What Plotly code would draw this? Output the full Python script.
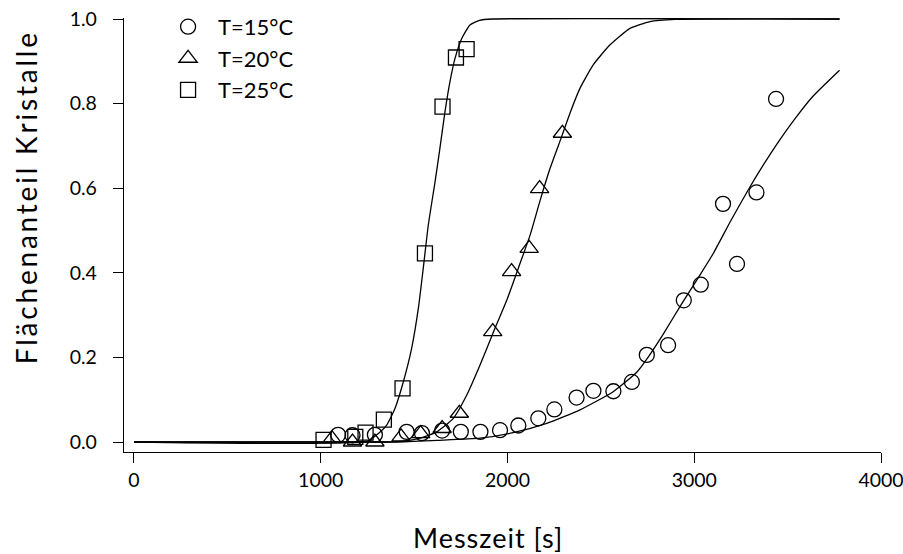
import plotly.graph_objects as go

t15 = [1093, 1170, 1290, 1460, 1542, 1650, 1750, 1855, 1960, 2058, 2165, 2251,
       2370, 2460, 2567, 2666, 2746, 2860, 2944, 3035, 3154, 3229, 3333, 3438]
f15 = [0.017, 0.016, 0.017, 0.024, 0.021, 0.027, 0.024, 0.024, 0.028, 0.039, 0.056, 0.077,
       0.105, 0.121, 0.120, 0.142, 0.206, 0.229, 0.335, 0.372, 0.563, 0.421, 0.590, 0.811]

t20 = [1060, 1170, 1290, 1430, 1535, 1650, 1742, 1921, 2022, 2116, 2172, 2294]
f20 = [0.008, 0.000, 0.000, 0.012, 0.020, 0.032, 0.068, 0.261, 0.403, 0.458, 0.599, 0.730]

t25 = [1015, 1185, 1240, 1338, 1438, 1558, 1652, 1724, 1781]
f25 = [0.005, 0.012, 0.022, 0.053, 0.127, 0.446, 0.793, 0.909, 0.929]

# ---- fitted curves ----
fit15_t = [0, 1400, 1621, 1853, 2030, 2210, 2388, 2566, 2692, 2760, 2834, 2930,
           3031, 3101, 3192, 3281, 3370, 3459, 3549, 3637, 3778]
fit15_f = [0.0, 0.0, 0.004, 0.009, 0.022, 0.044, 0.076, 0.119, 0.165, 0.205, 0.255, 0.325,
           0.395, 0.445, 0.520, 0.590, 0.655, 0.715, 0.770, 0.818, 0.879]

fit20_t = [0, 1350, 1442, 1531, 1621, 1710, 1782, 1853, 1933, 1996, 2058, 2121, 2174,
           2228, 2290, 2335, 2388, 2458, 2549, 2656, 2763, 2900, 3778]
fit20_f = [0.0, 0.0, 0.002, 0.009, 0.024, 0.056, 0.111, 0.182, 0.269, 0.335, 0.411, 0.489,
           0.570, 0.647, 0.722, 0.778, 0.836, 0.891, 0.939, 0.978, 0.994, 0.999, 1.0]

fit25_t = [0, 1250, 1300, 1353, 1398, 1442, 1487, 1523, 1549, 1576, 1612, 1639, 1665,
           1692, 1719, 1755, 1799, 1850, 1922, 3778]
fit25_f = [0.0, 0.002, 0.017, 0.040, 0.080, 0.142, 0.222, 0.317, 0.411, 0.513, 0.615, 0.697,
           0.780, 0.852, 0.907, 0.954, 0.986, 0.997, 1.0, 1.0]

labels = ["T=15°C", "T=20°C", "T=25°C"]
x_ticks = [0, 1000, 2000, 3000, 4000]
y_ticks = [0.0, 0.2, 0.4, 0.6, 0.8, 1.0]

FONT = "Lato"
TICK = 19.5
fig = go.Figure()

for ft, ff in [(fit15_t, fit15_f), (fit20_t, fit20_f), (fit25_t, fit25_f)]:
    fig.add_trace(go.Scatter(x=ft, y=ff, mode="lines", showlegend=False,
                             line=dict(color="black", width=1.3, shape="spline", smoothing=0.5),
                             hoverinfo="skip"))

series = [(t15, f15, "circle-open", 15), (t20, f20, "triangle-up-open", 16),
          (t25, f25, "square-open", 15)]
for i, (tx, fy, sym, sz) in enumerate(series):
    fig.add_trace(go.Scatter(x=tx, y=fy, mode="markers", name=labels[i],
                             legendgroup=str(i),
                             marker=dict(symbol=sym, size=sz, color="black",
                                         line=dict(color="black", width=1.3)),
                             cliponaxis=False))

fig.update_layout(
    width=903, height=554,
    margin=dict(l=124, r=22, t=18, b=102, autoexpand=False),
    paper_bgcolor="white", plot_bgcolor="white",
    font=dict(family=FONT, color="black", size=21),
    showlegend=True,
    legend=dict(x=0.045, y=1.028, xanchor="left", yanchor="top", itemwidth=50,
                bgcolor="rgba(0,0,0,0)", font=dict(family=FONT, size=22, color="black"),
                tracegroupgap=0, traceorder="grouped"),
    xaxis=dict(range=[-53.5, 4000], tickvals=x_ticks, ticktext=[str(v) for v in x_ticks],
               showgrid=False, zeroline=False, showline=True, linecolor="black",
               linewidth=1.3, ticks="outside", ticklen=10, tickwidth=1.3,
               tickcolor="black", tickfont=dict(family=FONT, size=TICK),
               ticklabeloverflow="allow", automargin=False),
    yaxis=dict(range=[-0.0236, 1.0024], tickvals=y_ticks,
               ticktext=["%.1f" % v for v in y_ticks],
               showgrid=False, zeroline=False, showline=True, linecolor="black",
               linewidth=1.3, ticks="outside", ticklen=10, tickwidth=1.3,
               tickcolor="black", tickfont=dict(family=FONT, size=TICK),
               ticklabelstandoff=12, ticklabeloverflow="allow", automargin=False),
    annotations=[
        dict(text="Flächenanteil Kristalle", xref="paper", yref="paper",
             x=(26 - 124) / 757, y=(452 - 197) / 434, xanchor="center", yanchor="middle",
             textangle=-90, showarrow=False, font=dict(family=FONT, size=28, color="black")),
        dict(text="Messzeit [s]", xref="paper", yref="paper",
             x=(488 - 124) / 757, y=(452 - 537) / 434, xanchor="center", yanchor="middle",
             showarrow=False, font=dict(family=FONT, size=27, color="black")),
    ],
)

post = """
document.documentElement.style.margin = '0';
document.body.style.margin = '0';
document.body.style.overflow = 'hidden';
function _ls(){
  document.querySelectorAll('.annotation-text').forEach(function(t){
    if (t.textContent.indexOf('Kristalle') >= 0) { t.style.letterSpacing = '2.8px'; }
    else if (t.textContent.indexOf('Messzeit') >= 0) { t.style.letterSpacing = '1px'; }
  });
}
_ls(); setTimeout(_ls, 50);
"""
fig.write_html("out.html", post_script=post, config={"displayModeBar": False})
